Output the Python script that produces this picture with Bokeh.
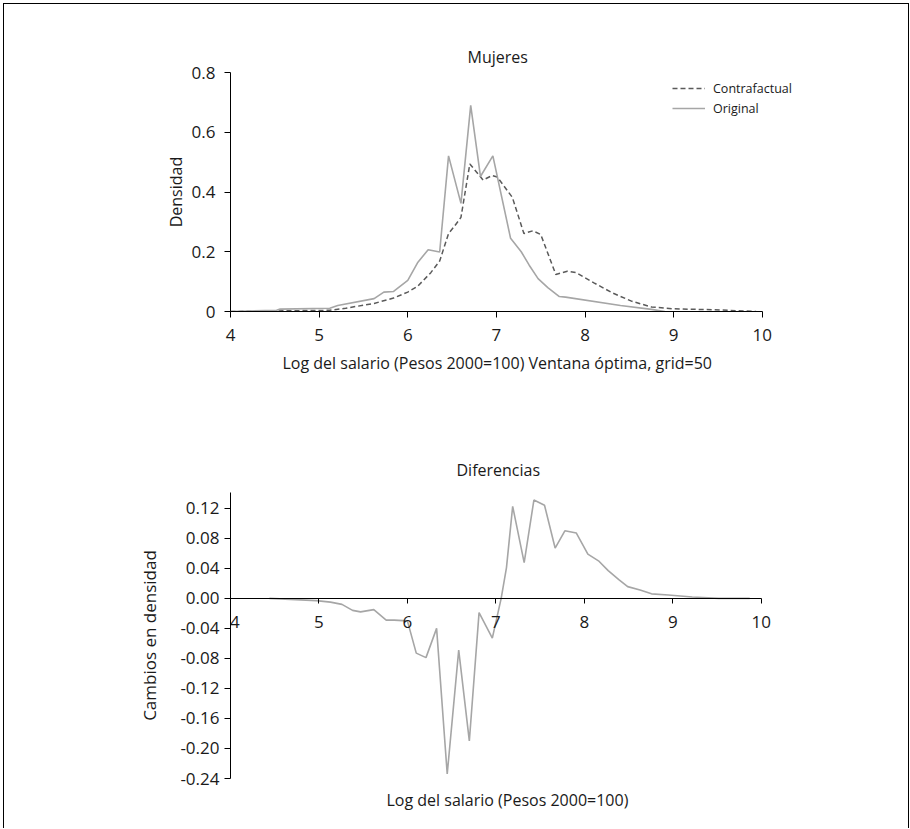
from bokeh.plotting import figure
from bokeh.layouts import column
from bokeh.models import (Range1d, FixedTicker, CustomJSTickFormatter, Legend, LegendItem,
                          Title, PrintfTickFormatter)
from bokeh.embed import file_html
from bokeh.resources import INLINE

# ---------------- data ----------------
x_ticks = [4, 5, 6, 7, 8, 9, 10]
top_y_ticks = [0, 0.2, 0.4, 0.6, 0.8]
diff_y_ticks = [0.12, 0.08, 0.04, 0.0, -0.04, -0.08, -0.12, -0.16, -0.20, -0.24]

orig_x = [4.0, 4.52, 4.56, 5.12, 5.21, 5.62, 5.73, 5.84, 6.0, 6.11, 6.23, 6.36, 6.46, 6.6,
          6.71, 6.82, 6.96, 7.16, 7.28, 7.37, 7.47, 7.58, 7.71, 7.78, 8.4, 8.75, 8.9]
orig_y = [0.0, 0.004, 0.008, 0.011, 0.02, 0.043, 0.065, 0.067, 0.104, 0.163, 0.207, 0.199,
          0.521, 0.362, 0.69, 0.452, 0.521, 0.245, 0.2, 0.155, 0.11, 0.08, 0.05, 0.048,
          0.02, 0.007, 0.0]

cf_x = [4.0, 4.52, 5.12, 5.3, 5.62, 5.84, 6.0, 6.11, 6.26, 6.36, 6.46, 6.52, 6.6, 6.7, 6.85,
        6.95, 7.01, 7.18, 7.31, 7.41, 7.5, 7.67, 7.8, 7.9, 8.1, 8.31, 8.53, 8.75, 9.0, 9.44, 9.93]
cf_y = [0.0, 0.002, 0.004, 0.011, 0.027, 0.045, 0.065, 0.084, 0.13, 0.169, 0.261, 0.283,
        0.315, 0.494, 0.44, 0.455, 0.45, 0.382, 0.261, 0.27, 0.258, 0.124, 0.135, 0.13,
        0.096, 0.062, 0.034, 0.015, 0.009, 0.006, 0.0]

diff_x = [4.44, 4.97, 5.13, 5.26, 5.38, 5.47, 5.62, 5.76, 5.85, 6.0, 6.1, 6.21, 6.33, 6.45,
          6.58, 6.70, 6.81, 6.96, 7.06, 7.12, 7.19, 7.32, 7.43, 7.55, 7.67, 7.78, 7.91, 8.04,
          8.16, 8.27, 8.39, 8.49, 8.63, 8.76, 8.95, 9.22, 9.52, 9.87]
diff_y = [0.0, -0.003, -0.005, -0.008, -0.016, -0.018, -0.015, -0.029, -0.029, -0.03, -0.073,
          -0.079, -0.040, -0.234, -0.069, -0.19, -0.019, -0.053, 0.0, 0.041, 0.1225, 0.0476,
          0.131, 0.124, 0.067, 0.09, 0.087, 0.059, 0.05, 0.037, 0.025, 0.0156, 0.011, 0.006,
          0.0044, 0.0017, 0.0, 0.0]

FONT = "Open Sans"
TXT = "#1a1a1a"
GRAY = "#a6a6a6"
DARK = "#5a5a5a"


def style_axes(p, tick_standoff_x, tick_standoff_y):
    for ax in (p.xaxis[0], p.yaxis[0]):
        ax.axis_line_color = "black"
        ax.major_tick_line_color = "black"
        ax.minor_tick_line_color = None
        ax.major_tick_in = 0
        ax.major_tick_out = 6
        ax.major_label_text_font = FONT
        ax.major_label_text_font_size = "17px"
        ax.major_label_text_color = TXT
        ax.axis_label_text_font = FONT
        ax.axis_label_text_font_style = "normal"
        ax.axis_label_text_color = TXT
    p.xaxis.major_label_standoff = tick_standoff_x
    p.yaxis.major_label_standoff = tick_standoff_y
    p.xgrid.visible = False
    p.ygrid.visible = False
    p.outline_line_color = None


def make_title(text, size, offset, standoff):
    return Title(text=text, align="left", offset=offset, text_font=FONT,
                 text_font_size=size, text_font_style="normal", text_color=TXT,
                 standoff=standoff)


# ---------------- top chart ----------------
# frame: x 4 .. 10.6 (axis line limited to 4..10), y 0 .. 0.8
p1 = figure(frame_width=585, frame_height=239, min_border_left=226, min_border_right=93,
            min_border_top=68, min_border_bottom=105,
            x_range=Range1d(4, 10.6), y_range=Range1d(0, 0.8),
            output_backend="svg", toolbar_location=None)
p1.title = make_title("Mujeres", "16px", 237, 10)
style_axes(p1, 11, 9)
p1.xaxis.bounds = (4, 10)
p1.xaxis.ticker = FixedTicker(ticks=x_ticks)
p1.yaxis.ticker = FixedTicker(ticks=top_y_ticks)
p1.yaxis.formatter = CustomJSTickFormatter(code="return tick == 0 ? '0' : tick.toFixed(1);")
p1.add_layout(make_title("Log del salario (Pesos 2000=100) Ventana óptima, grid=50",
                         "16px", 52, 12), "below")
p1.yaxis.axis_label = "Densidad"
p1.yaxis.axis_label_text_font_size = "16px"
p1.yaxis.axis_label_standoff = 2

r_cf = p1.line(cf_x, cf_y, line_color=DARK, line_width=1.5, line_dash="5 3")
r_or = p1.line(orig_x, orig_y, line_color=GRAY, line_width=1.6)

legend = Legend(items=[LegendItem(label="Contrafactual", renderers=[r_cf]),
                       LegendItem(label="Original", renderers=[r_or])],
                location=(442, 193), orientation="vertical",
                glyph_width=33, glyph_height=20, label_height=20, label_standoff=8,
                spacing=0, padding=0, margin=0,
                label_text_font=FONT, label_text_font_size="12.5px", label_text_color=TXT,
                border_line_alpha=0, background_fill_alpha=0)
p1.add_layout(legend, "center")

# ---------------- bottom chart ----------------
p2 = figure(frame_width=544, frame_height=286, min_border_left=225, min_border_right=135,
            min_border_top=76, min_border_bottom=50,
            x_range=Range1d(4, 10.15), y_range=Range1d(-0.24, 0.141),
            output_backend="svg", toolbar_location=None)
p2.title = make_title("Diferencias", "16px", 226, 23)
style_axes(p2, 7, 5)
p2.xaxis.fixed_location = 0
p2.xaxis.bounds = (4, 10)
p2.xaxis.ticker = FixedTicker(ticks=x_ticks)
p2.xaxis.major_label_overrides = {4: "\u00a0\u00a04"}
p2.xaxis.major_tick_out = 5
p2.yaxis.ticker = FixedTicker(ticks=diff_y_ticks)
p2.yaxis.formatter = PrintfTickFormatter(format="%.2f")
p2.yaxis.axis_label = "Cambios en densidad"
p2.yaxis.axis_label_text_font_size = "17px"
p2.yaxis.axis_label_standoff = 16
p2.add_layout(make_title("Log del salario (Pesos 2000=100)", "16px", 156, 17), "below")

p2.line(diff_x, diff_y, line_color=GRAY, line_width=1.6)

layout = column(p1, p2, styles={"margin-left": "3px", "margin-top": "3px",
                                "border-top": "1px solid #000",
                                "border-left": "1px solid #000",
                                "border-right": "1px solid #000"})

open("out.html", "w").write(file_html(layout, INLINE))
